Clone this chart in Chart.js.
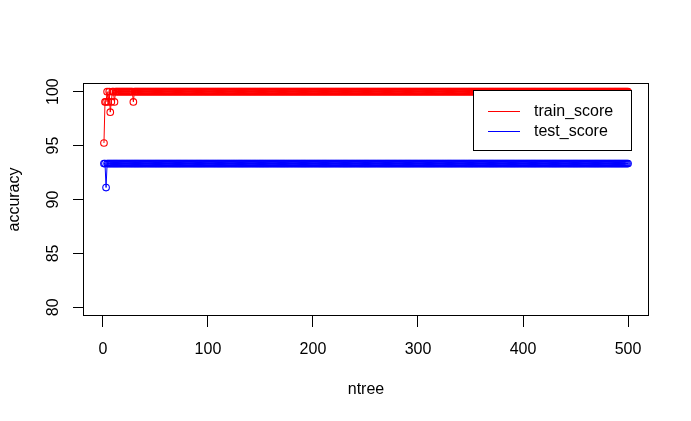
<!DOCTYPE html>
<html lang="en">
<head>
  <meta charset="UTF-8" />
  <title>accuracy vs ntree</title>
  <script src="https://cdn.jsdelivr.net/npm/chart.js"></script>
</head>
<body style="margin: 0; padding: 0; background: #fff;">

  <canvas id="scoreChart" width="691" height="421" style="display: block;"></canvas>

  <script>
    // tick labels
    const ntreeTicks = [0, 100, 200, 300, 400, 500];
    const accuracyTicks = [80, 85, 90, 95, 100];

    const seriesNames = ['train_score', 'test_score'];

    // accuracy (%) for ntree = 1..500
    const trainScore = [
      95.24, 99.05, 99.05, 100, 99.05, 100, 98.10, 99.05, 100, 100, 99.05, 100, 100, 100, 100, 100, 100, 100, 100, 100, 100, 100, 100, 100, 100,
      100, 100, 100, 99.05, 100, 100, 100, 100, 100, 100, 100, 100, 100, 100, 100, 100, 100, 100, 100, 100, 100, 100, 100, 100, 100,
      100, 100, 100, 100, 100, 100, 100, 100, 100, 100, 100, 100, 100, 100, 100, 100, 100, 100, 100, 100, 100, 100, 100, 100, 100,
      100, 100, 100, 100, 100, 100, 100, 100, 100, 100, 100, 100, 100, 100, 100, 100, 100, 100, 100, 100, 100, 100, 100, 100, 100,
      100, 100, 100, 100, 100, 100, 100, 100, 100, 100, 100, 100, 100, 100, 100, 100, 100, 100, 100, 100, 100, 100, 100, 100, 100,
      100, 100, 100, 100, 100, 100, 100, 100, 100, 100, 100, 100, 100, 100, 100, 100, 100, 100, 100, 100, 100, 100, 100, 100, 100,
      100, 100, 100, 100, 100, 100, 100, 100, 100, 100, 100, 100, 100, 100, 100, 100, 100, 100, 100, 100, 100, 100, 100, 100, 100,
      100, 100, 100, 100, 100, 100, 100, 100, 100, 100, 100, 100, 100, 100, 100, 100, 100, 100, 100, 100, 100, 100, 100, 100, 100,
      100, 100, 100, 100, 100, 100, 100, 100, 100, 100, 100, 100, 100, 100, 100, 100, 100, 100, 100, 100, 100, 100, 100, 100, 100,
      100, 100, 100, 100, 100, 100, 100, 100, 100, 100, 100, 100, 100, 100, 100, 100, 100, 100, 100, 100, 100, 100, 100, 100, 100,
      100, 100, 100, 100, 100, 100, 100, 100, 100, 100, 100, 100, 100, 100, 100, 100, 100, 100, 100, 100, 100, 100, 100, 100, 100,
      100, 100, 100, 100, 100, 100, 100, 100, 100, 100, 100, 100, 100, 100, 100, 100, 100, 100, 100, 100, 100, 100, 100, 100, 100,
      100, 100, 100, 100, 100, 100, 100, 100, 100, 100, 100, 100, 100, 100, 100, 100, 100, 100, 100, 100, 100, 100, 100, 100, 100,
      100, 100, 100, 100, 100, 100, 100, 100, 100, 100, 100, 100, 100, 100, 100, 100, 100, 100, 100, 100, 100, 100, 100, 100, 100,
      100, 100, 100, 100, 100, 100, 100, 100, 100, 100, 100, 100, 100, 100, 100, 100, 100, 100, 100, 100, 100, 100, 100, 100, 100,
      100, 100, 100, 100, 100, 100, 100, 100, 100, 100, 100, 100, 100, 100, 100, 100, 100, 100, 100, 100, 100, 100, 100, 100, 100,
      100, 100, 100, 100, 100, 100, 100, 100, 100, 100, 100, 100, 100, 100, 100, 100, 100, 100, 100, 100, 100, 100, 100, 100, 100,
      100, 100, 100, 100, 100, 100, 100, 100, 100, 100, 100, 100, 100, 100, 100, 100, 100, 100, 100, 100, 100, 100, 100, 100, 100,
      100, 100, 100, 100, 100, 100, 100, 100, 100, 100, 100, 100, 100, 100, 100, 100, 100, 100, 100, 100, 100, 100, 100, 100, 100,
      100, 100, 100, 100, 100, 100, 100, 100, 100, 100, 100, 100, 100, 100, 100, 100, 100, 100, 100, 100, 100, 100, 100, 100, 100
    ];

    const testScore = [
      93.33, 93.33, 91.11, 93.33, 93.33, 93.33, 93.33, 93.33, 93.33, 93.33, 93.33, 93.33, 93.33, 93.33, 93.33, 93.33, 93.33, 93.33, 93.33, 93.33, 93.33, 93.33, 93.33, 93.33, 93.33,
      93.33, 93.33, 93.33, 93.33, 93.33, 93.33, 93.33, 93.33, 93.33, 93.33, 93.33, 93.33, 93.33, 93.33, 93.33, 93.33, 93.33, 93.33, 93.33, 93.33, 93.33, 93.33, 93.33, 93.33, 93.33,
      93.33, 93.33, 93.33, 93.33, 93.33, 93.33, 93.33, 93.33, 93.33, 93.33, 93.33, 93.33, 93.33, 93.33, 93.33, 93.33, 93.33, 93.33, 93.33, 93.33, 93.33, 93.33, 93.33, 93.33, 93.33,
      93.33, 93.33, 93.33, 93.33, 93.33, 93.33, 93.33, 93.33, 93.33, 93.33, 93.33, 93.33, 93.33, 93.33, 93.33, 93.33, 93.33, 93.33, 93.33, 93.33, 93.33, 93.33, 93.33, 93.33, 93.33,
      93.33, 93.33, 93.33, 93.33, 93.33, 93.33, 93.33, 93.33, 93.33, 93.33, 93.33, 93.33, 93.33, 93.33, 93.33, 93.33, 93.33, 93.33, 93.33, 93.33, 93.33, 93.33, 93.33, 93.33, 93.33,
      93.33, 93.33, 93.33, 93.33, 93.33, 93.33, 93.33, 93.33, 93.33, 93.33, 93.33, 93.33, 93.33, 93.33, 93.33, 93.33, 93.33, 93.33, 93.33, 93.33, 93.33, 93.33, 93.33, 93.33, 93.33,
      93.33, 93.33, 93.33, 93.33, 93.33, 93.33, 93.33, 93.33, 93.33, 93.33, 93.33, 93.33, 93.33, 93.33, 93.33, 93.33, 93.33, 93.33, 93.33, 93.33, 93.33, 93.33, 93.33, 93.33, 93.33,
      93.33, 93.33, 93.33, 93.33, 93.33, 93.33, 93.33, 93.33, 93.33, 93.33, 93.33, 93.33, 93.33, 93.33, 93.33, 93.33, 93.33, 93.33, 93.33, 93.33, 93.33, 93.33, 93.33, 93.33, 93.33,
      93.33, 93.33, 93.33, 93.33, 93.33, 93.33, 93.33, 93.33, 93.33, 93.33, 93.33, 93.33, 93.33, 93.33, 93.33, 93.33, 93.33, 93.33, 93.33, 93.33, 93.33, 93.33, 93.33, 93.33, 93.33,
      93.33, 93.33, 93.33, 93.33, 93.33, 93.33, 93.33, 93.33, 93.33, 93.33, 93.33, 93.33, 93.33, 93.33, 93.33, 93.33, 93.33, 93.33, 93.33, 93.33, 93.33, 93.33, 93.33, 93.33, 93.33,
      93.33, 93.33, 93.33, 93.33, 93.33, 93.33, 93.33, 93.33, 93.33, 93.33, 93.33, 93.33, 93.33, 93.33, 93.33, 93.33, 93.33, 93.33, 93.33, 93.33, 93.33, 93.33, 93.33, 93.33, 93.33,
      93.33, 93.33, 93.33, 93.33, 93.33, 93.33, 93.33, 93.33, 93.33, 93.33, 93.33, 93.33, 93.33, 93.33, 93.33, 93.33, 93.33, 93.33, 93.33, 93.33, 93.33, 93.33, 93.33, 93.33, 93.33,
      93.33, 93.33, 93.33, 93.33, 93.33, 93.33, 93.33, 93.33, 93.33, 93.33, 93.33, 93.33, 93.33, 93.33, 93.33, 93.33, 93.33, 93.33, 93.33, 93.33, 93.33, 93.33, 93.33, 93.33, 93.33,
      93.33, 93.33, 93.33, 93.33, 93.33, 93.33, 93.33, 93.33, 93.33, 93.33, 93.33, 93.33, 93.33, 93.33, 93.33, 93.33, 93.33, 93.33, 93.33, 93.33, 93.33, 93.33, 93.33, 93.33, 93.33,
      93.33, 93.33, 93.33, 93.33, 93.33, 93.33, 93.33, 93.33, 93.33, 93.33, 93.33, 93.33, 93.33, 93.33, 93.33, 93.33, 93.33, 93.33, 93.33, 93.33, 93.33, 93.33, 93.33, 93.33, 93.33,
      93.33, 93.33, 93.33, 93.33, 93.33, 93.33, 93.33, 93.33, 93.33, 93.33, 93.33, 93.33, 93.33, 93.33, 93.33, 93.33, 93.33, 93.33, 93.33, 93.33, 93.33, 93.33, 93.33, 93.33, 93.33,
      93.33, 93.33, 93.33, 93.33, 93.33, 93.33, 93.33, 93.33, 93.33, 93.33, 93.33, 93.33, 93.33, 93.33, 93.33, 93.33, 93.33, 93.33, 93.33, 93.33, 93.33, 93.33, 93.33, 93.33, 93.33,
      93.33, 93.33, 93.33, 93.33, 93.33, 93.33, 93.33, 93.33, 93.33, 93.33, 93.33, 93.33, 93.33, 93.33, 93.33, 93.33, 93.33, 93.33, 93.33, 93.33, 93.33, 93.33, 93.33, 93.33, 93.33,
      93.33, 93.33, 93.33, 93.33, 93.33, 93.33, 93.33, 93.33, 93.33, 93.33, 93.33, 93.33, 93.33, 93.33, 93.33, 93.33, 93.33, 93.33, 93.33, 93.33, 93.33, 93.33, 93.33, 93.33, 93.33,
      93.33, 93.33, 93.33, 93.33, 93.33, 93.33, 93.33, 93.33, 93.33, 93.33, 93.33, 93.33, 93.33, 93.33, 93.33, 93.33, 93.33, 93.33, 93.33, 93.33, 93.33, 93.33, 93.33, 93.33, 93.33
    ];

    const FONT = "'Liberation Sans', Arial, sans-serif";

    // R style: box round the plot, rotated y labels, legend with white fill
    const rStyle = {
      id: 'rStyle',
      afterDraw(chart) {
        const ctx = chart.ctx;
        const a = chart.chartArea;
        const y = chart.scales.y;
        ctx.save();
        ctx.strokeStyle = '#000';
        ctx.lineWidth = 1;
        ctx.strokeRect(Math.round(a.left) + 0.5, Math.round(a.top) + 0.5,
          Math.round(a.right) - Math.round(a.left) - 1, Math.round(a.bottom) - Math.round(a.top) - 1);

        ctx.fillStyle = '#000';
        ctx.font = '16px ' + FONT;
        ctx.textAlign = 'center';
        ctx.textBaseline = 'middle';
        accuracyTicks.forEach(v => {
          ctx.save();
          ctx.translate(54, y.getPixelForValue(v));
          ctx.rotate(-Math.PI / 2);
          ctx.fillText(String(v), 0, 0);
          ctx.restore();
        });

        // legend
        const lx = 473.5, ly = 90.5;
        ctx.fillStyle = '#fff';
        ctx.fillRect(lx, ly, 158, 60);
        ctx.strokeRect(lx, ly, 158, 60);
        const colors = ['#FF0000', '#0000FF'];
        seriesNames.forEach((name, i) => {
          const yy = 111.5 + i * 20;
          ctx.strokeStyle = colors[i];
          ctx.beginPath();
          ctx.moveTo(488, yy);
          ctx.lineTo(520, yy);
          ctx.stroke();
          ctx.fillStyle = '#000';
          ctx.textAlign = 'left';
          ctx.fillText(name, 534, yy + 0.5);
        });
        ctx.restore();
      }
    };

    const seriesStyle = (color) => ({
      borderColor: color,
      borderWidth: 1,
      pointRadius: 3.3,
      pointBorderWidth: 1.1,
      pointBorderColor: color,
      pointBackgroundColor: 'rgba(0,0,0,0)',
      tension: 0,
      fill: false
    });

    const ctx = document.getElementById('scoreChart').getContext('2d');
    new Chart(ctx, {
      type: 'line',
      data: {
        datasets: [
          Object.assign({ label: seriesNames[0], data: trainScore.map((v, i) => ({ x: i + 1, y: v })) }, seriesStyle('#FF0000')),
          Object.assign({ label: seriesNames[1], data: testScore.map((v, i) => ({ x: i + 1, y: v })) }, seriesStyle('#0000FF'))
        ]
      },
      options: {
        responsive: false,
        animation: false,
        devicePixelRatio: 1,
        layout: { padding: { top: 83, right: 42, bottom: 0, left: 0 } },
        plugins: {
          legend: { display: false },
          tooltip: { enabled: false }
        },
        scales: {
          x: {
            type: 'linear',
            min: -18.96,
            max: 519.96,
            afterBuildTicks: s => { s.ticks = ntreeTicks.map(v => ({ value: v })); },
            afterFit: s => { s.height = 105; },
            grid: { drawOnChartArea: false, drawTicks: true, tickLength: 11, color: '#000', tickColor: '#000' },
            border: { display: false },
            ticks: { color: '#000', font: { family: FONT, size: 16 }, padding: 13, maxRotation: 0, autoSkip: false },
            title: { display: true, text: 'ntree', color: '#000', font: { family: FONT, size: 16 }, padding: { top: 0, bottom: 22 } }
          },
          y: {
            type: 'linear',
            min: 79.2,
            max: 100.8,
            afterBuildTicks: s => { s.ticks = accuracyTicks.map(v => ({ value: v })); },
            afterFit: s => { s.width = 83; },
            grid: { drawOnChartArea: false, drawTicks: true, tickLength: 10, color: '#000', tickColor: '#000' },
            border: { display: false },
            ticks: { display: false },
            title: { display: true, text: 'accuracy', color: '#000', font: { family: FONT, size: 16 }, padding: { top: 5, bottom: 0 } }
          }
        }
      },
      plugins: [rStyle]
    });
  </script>
</body>
</html>
